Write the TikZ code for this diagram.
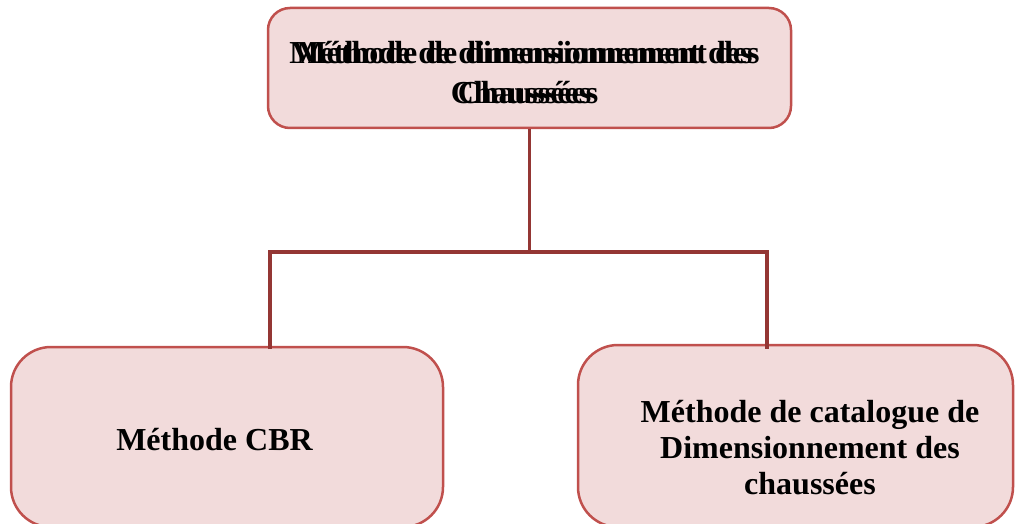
\documentclass[tikz,border=0pt]{standalone}
\usepackage{fontspec}
\setmainfont{Liberation Serif}
\usetikzlibrary{positioning}
\definecolor{boxfill}{RGB}{242,219,219}
\definecolor{boxedge}{RGB}{192,80,77}
\definecolor{linkred}{RGB}{148,54,52}
\begin{document}
\begin{tikzpicture}[x=1pt, y=-1pt,
  methodbox/.style={draw=boxedge, fill=boxfill, line width=2.5pt, inner sep=0pt},
  boxtext/.style={align=center, inner sep=0pt},
  link/.style={draw=linkred, line width=3.5pt}]
% Frame of the picture
\clip (0,0) rectangle (1015,524);

% Boxes
\node[methodbox, rounded corners=22pt, minimum width=523pt, minimum height=120pt] (main) at (529.5,68) {};
\node[methodbox, rounded corners=40pt, minimum width=432pt, minimum height=180pt] (cbr) at (227,437) {};
\node[methodbox, rounded corners=40pt, minimum width=435pt, minimum height=182pt] (catalogue) at (795.5,436) {};

% Texts (the top one is printed twice, slightly shifted)
\node[boxtext, font=\fontsize{32}{40}\selectfont\bfseries] (maintext) at (521,73) {Méthode de dimensionnement des\\Chaussées};
\node[boxtext, font=\fontsize{32}{40}\selectfont\bfseries] (maintextb) at (528,73) {Méthode de dimensionnement des\\Chaussées};
\node[boxtext, font=\fontsize{32}{36}\selectfont\bfseries] (cbrtext) at (214.5,440) {Méthode CBR};
\node[boxtext, font=\fontsize{32}{36}\selectfont\bfseries] (cattext) at (810,448) {Méthode de catalogue de\\Dimensionnement des\\chaussées};

% Connectors
\coordinate (fork) at (529.5,252);
\coordinate (cbrdrop) at (270,349);
\coordinate (catdrop) at (767,349);
\draw[link] (main.south) -- (fork);
\draw[link] (cbrdrop) |- (fork) -| (catdrop);
\end{tikzpicture}
\end{document}
